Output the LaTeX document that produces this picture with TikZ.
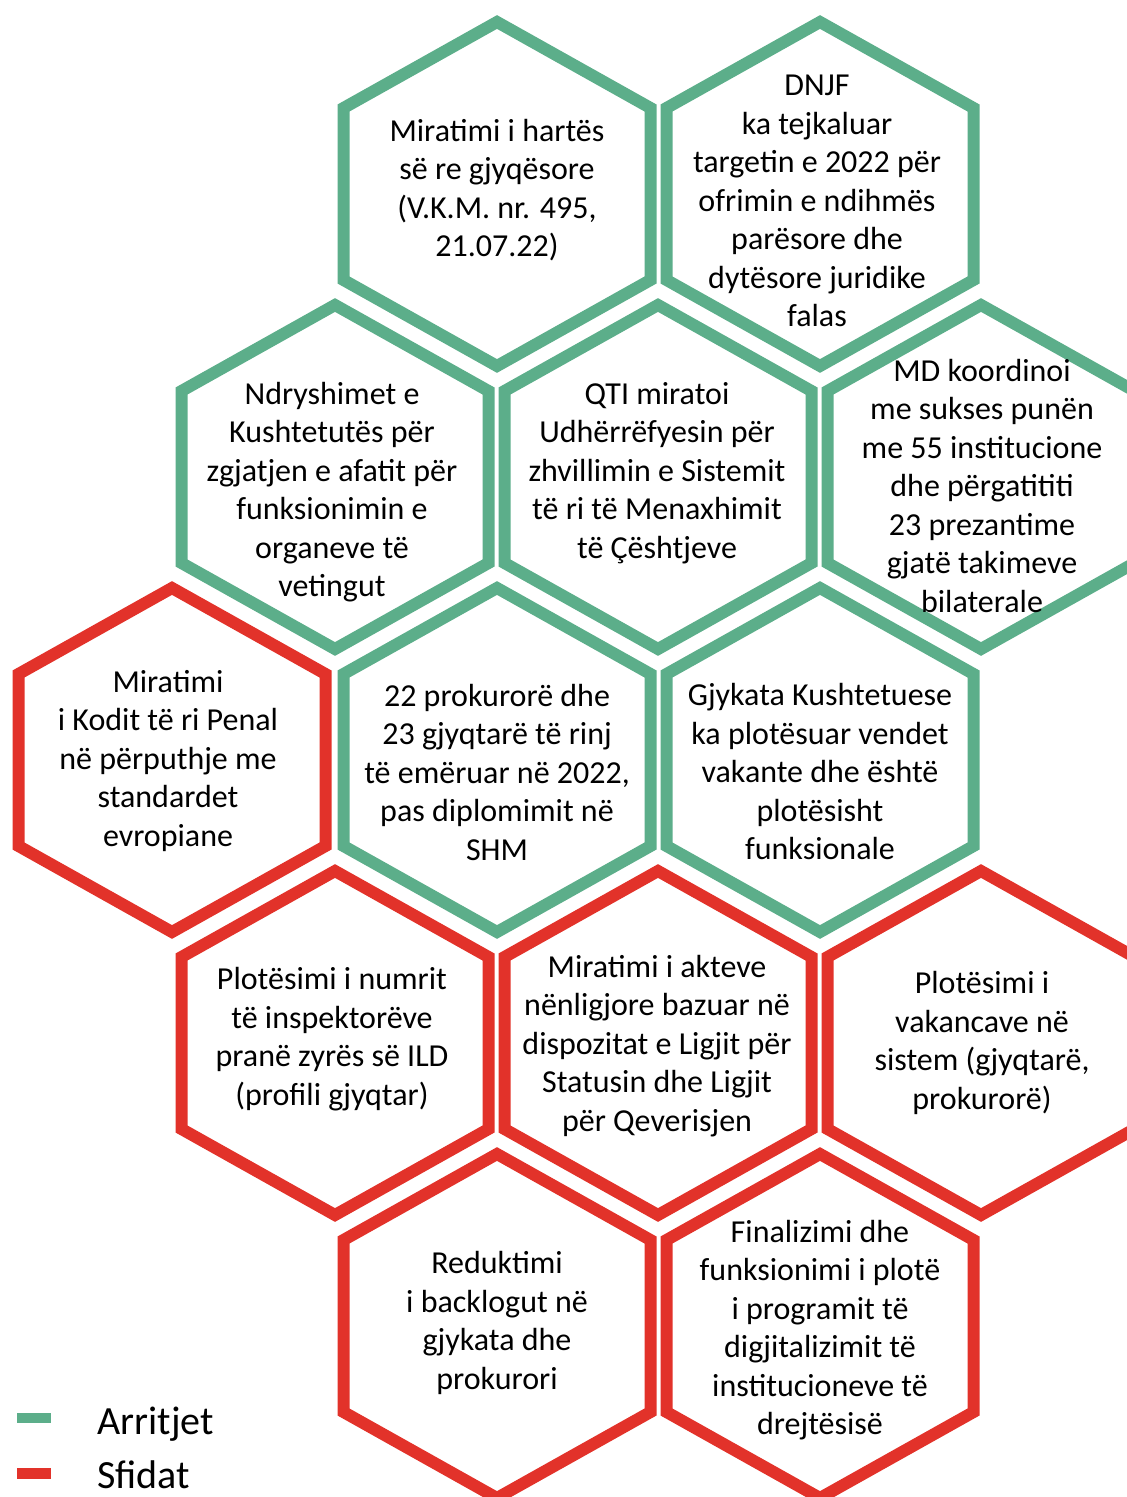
\documentclass[tikz,border=0pt]{standalone}
\usepackage{fontspec}
\setmainfont{Carlito}

\definecolor{arritjegreen}{RGB}{92,174,138}
\definecolor{sfidared}{RGB}{226,50,42}

% hexagon around a named centre: \hexagon{style}{centre}
\newcommand{\hexagon}[2]{%
  \draw[#1] (#2) ++(0,-172) -- ++(153.5,86) -- ++(0,172) -- ++(-153.5,86)
    -- ++(-153.5,-86) -- ++(0,-172) -- cycle;}

\tikzset{
  hexline/.style={line width=6pt, line join=miter},
  arritje/.style={hexline, draw=arritjegreen},
  sfida/.style={hexline, draw=sfidared},
  hextext/.style={align=center, inner sep=0pt,
    font=\fontsize{16}{19.25}\selectfont},
  legendtext/.style={anchor=base west, inner sep=0pt,
    font=\fontsize{20}{24}\selectfont},
}

\begin{document}
\begin{tikzpicture}[x=0.5pt, y=-0.5pt]
  \useasboundingbox (0,0) rectangle (1126,1497);

  % Centres of the honeycomb
  \coordinate (harta) at (497, 194);
  \coordinate (dnjf) at (820, 194);
  \coordinate (kushtetuta) at (335, 477);
  \coordinate (qti) at (658, 477);
  \coordinate (md) at (981, 477);
  \coordinate (kodi) at (172, 760);
  \coordinate (emerimet) at (497, 760);
  \coordinate (gjkk) at (820, 760);
  \coordinate (ild) at (335, 1043);
  \coordinate (aktet) at (658, 1043);
  \coordinate (vakancat) at (981, 1043);
  \coordinate (backlog) at (497, 1326);
  \coordinate (digjital) at (820, 1326);

  % Arritjet
  \hexagon{arritje}{harta}
  \hexagon{arritje}{dnjf}
  \hexagon{arritje}{kushtetuta}
  \hexagon{arritje}{qti}
  \hexagon{arritje}{md}
  \hexagon{arritje}{emerimet}
  \hexagon{arritje}{gjkk}

  % Sfidat
  \hexagon{sfida}{kodi}
  \hexagon{sfida}{ild}
  \hexagon{sfida}{aktet}
  \hexagon{sfida}{vakancat}
  \hexagon{sfida}{backlog}
  \hexagon{sfida}{digjital}

  % Texts
  \node[hextext] (harta-txt) at (497, 190)
    {Miratimi i hartës\\së re gjyqësore\\(V.K.M. nr. 495,\\21.07.22)};
  \node[hextext] (dnjf-txt) at (817, 201)
    {DNJF\\ka tejkaluar\\targetin e 2022 për\\ofrimin e ndihmës\\parësore dhe\\dytësore juridike\\falas};
  \node[hextext] (kushtetuta-txt) at (332, 492)
    {Ndryshimet e\\Kushtetutës për\\zgjatjen e afatit për\\funksionimin e\\organeve të\\vetingut};
  \node[hextext] (qti-txt) at (657, 473)
    {QTI miratoi\\Udhërrëfyesin për\\zhvillimin e Sistemit\\të ri të Menaxhimit\\të Çështjeve};
  \node[hextext] (md-txt) at (982, 486)
    {MD koordinoi\\me sukses punën\\me 55 institucione\\dhe përgatititi\\23 prezantime\\gjatë takimeve\\bilaterale};
  \node[hextext] (kodi-txt) at (168, 761)
    {Miratimi\\i Kodit të ri Penal\\në përputhje me\\standardet\\evropiane};
  \node[hextext] (emerimet-txt) at (497, 772)
    {22 prokurorë dhe\\23 gjyqtarë të rinj\\të emëruar në 2022,\\pas diplomimit në\\SHM};
  \node[hextext] (gjkk-txt) at (820, 772)
    {Gjykata Kushtetuese\\ka plotësuar vendet\\vakante dhe është\\plotësisht\\funksionale};
  \node[hextext] (ild-txt) at (332, 1039)
    {Plotësimi i numrit\\të inspektorëve\\pranë zyrës së ILD\\(profili gjyqtar)};
  \node[hextext] (aktet-txt) at (657, 1046)
    {Miratimi i akteve\\nënligjore bazuar në\\dispozitat e Ligjit për\\Statusin dhe Ligjit\\për Qeverisjen};
  \node[hextext] (vakancat-txt) at (982, 1043)
    {Plotësimi i\\vakancave në\\sistem (gjyqtarë,\\prokurorë)};
  \node[hextext] (backlog-txt) at (497, 1323)
    {Reduktimi\\i backlogut në\\gjykata dhe\\prokurori};
  \node[hextext] (digjital-txt) at (820, 1330)
    {Finalizimi dhe\\funksionimi i plotë\\i programit të\\digjitalizimit të\\institucioneve të\\drejtësisë};

  % Legend
  \fill[arritjegreen] (17, 1413) rectangle (51, 1423);
  \fill[sfidared] (17, 1468) rectangle (51, 1479);
  \node[legendtext] (arritjet) at (97, 1434) {Arritjet};
  \node[legendtext] (sfidat) at (97, 1488) {Sfidat};
\end{tikzpicture}
\end{document}
